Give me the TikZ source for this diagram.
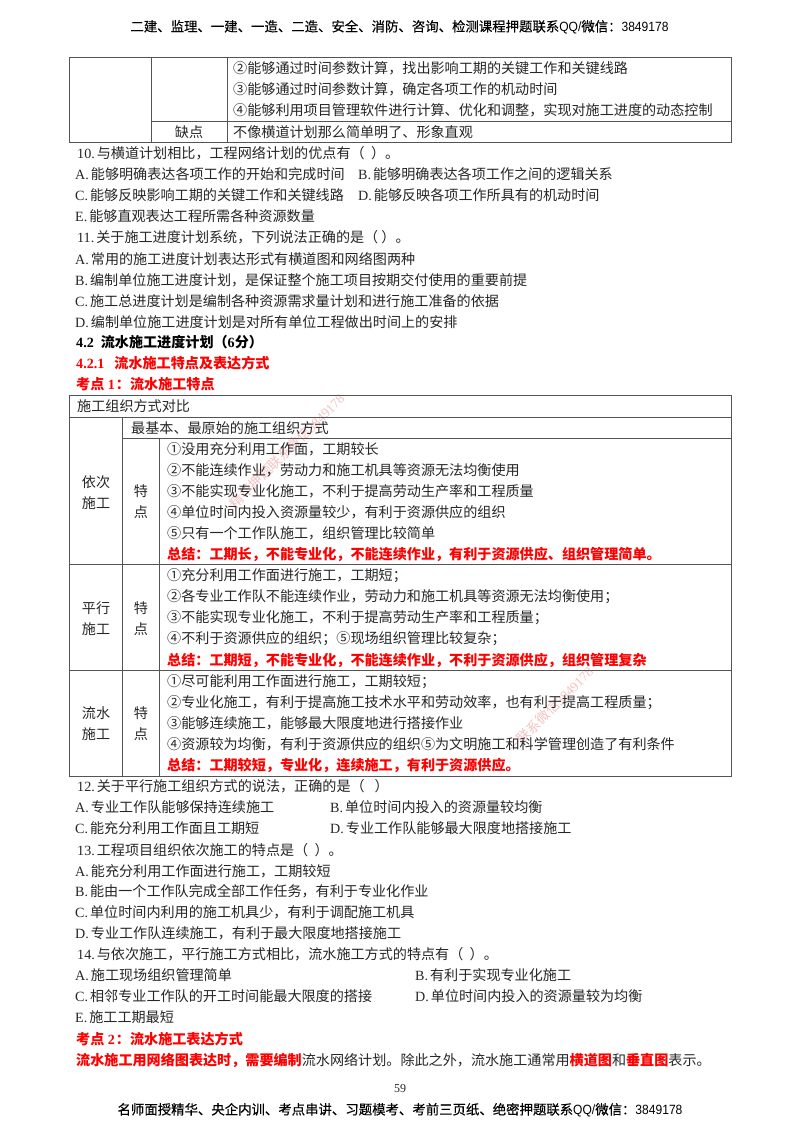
\documentclass[tikz,border=0pt]{standalone}
\usepackage{fontspec}
\setmainfont{Noto Sans CJK SC}
\newfontfamily\lat{Liberation Serif}
\newfontfamily\bandcjk[FakeBold=0.25]{Noto Sans CJK SC}
\newfontfamily\bandlat[FakeStretch=0.9]{Liberation Sans}
\usetikzlibrary{calc}
\definecolor{ink}{gray}{0.15}
\definecolor{rulegray}{gray}{0.33}
\definecolor{markpink}{rgb}{0.96,0.76,0.76}
\newcommand{\hl}[1]{{\bfseries\color{red}#1}}
\newcommand{\opt}[1]{{\lat #1}\kern2pt}
\newcommand{\bodysize}{\fontsize{14.1}{17}\selectfont}
\newcommand{\bandsize}{\fontsize{13.4}{16}\selectfont\bandcjk}
\tikzset{
    txt/.style={anchor=west,inner sep=0pt,text height=12pt,text depth=1.2pt,text=ink,font=\bodysize},
    ctr/.style={inner sep=0pt,text height=12pt,text depth=1.2pt,text=ink,font=\bodysize},
    band/.style={inner sep=0pt,text=black,font=\bandsize},
    rule/.style={draw=rulegray,line width=0.9pt},
    wmark/.style={inner sep=0pt,text=markpink,font=\fontsize{13.5}{16}\selectfont,rotate=45}
}
\begin{document}
\begin{tikzpicture}[x=1pt,y=-1pt]
            \useasboundingbox[fill=white] (0,0) rectangle (800,1132);
            % watermarks
            \node[wmark] (markA) at (287,451) {精华押题联系微信{\lat 3849178}};
            \node[wmark] (markB) at (550,710) {一联系微信{\lat 3849178}};
            % header
            \node[band] (headline) at (399.5,27) {二建、监理、一建、一造、二造、安全、消防、咨询、检测课程押题联系{\bandlat QQ/}微信：{\bandlat 3849178}};
            % upper table
            \draw[rule] (69,57) rectangle (731,142.5);
            \draw[rule] (151,57) -- (151,142.5);
            \draw[rule] (227,57) -- (227,142.5);
            \draw[rule] (151,121) -- (731,121);
            \node[txt] (topB) at (233,68) {②能够通过时间参数计算，找出影响工期的关键工作和关键线路};
            \node[txt] (topC) at (233,89) {③能够通过时间参数计算，确定各项工作的机动时间};
            \node[txt] (topD) at (233,110) {④能够利用项目管理软件进行计算、优化和调整，实现对施工进度的动态控制};
            \node[ctr] (lack) at (189,132) {缺点};
            \node[txt] (lackT) at (233,132) {不像横道计划那么简单明了、形象直观};
            % question 10
            \node[txt] (qTen) at (77,153) {\opt{10.}与横道计划相比，工程网络计划的优点有（\ \ ）。};
            \node[txt] (qTenA) at (75,174) {\opt{A.}能够明确表达各项工作的开始和完成时间};
            \node[txt] (qTenB) at (358,174) {\opt{B.}能够明确表达各项工作之间的逻辑关系};
            \node[txt] (qTenC) at (75,195) {\opt{C.}能够反映影响工期的关键工作和关键线路};
            \node[txt] (qTenD) at (358,195) {\opt{D.}能够反映各项工作所具有的机动时间};
            \node[txt] (qTenE) at (75,216) {\opt{E.}能够直观表达工程所需各种资源数量};
            % question 11
            \node[txt] (qEle) at (77,237) {\opt{11.}关于施工进度计划系统，下列说法正确的是（\ ）。};
            \node[txt] (qEleA) at (75,259) {\opt{A.}常用的施工进度计划表达形式有横道图和网络图两种};
            \node[txt] (qEleB) at (75,280) {\opt{B.}编制单位施工进度计划，是保证整个施工项目按期交付使用的重要前提};
            \node[txt] (qEleC) at (75,301) {\opt{C.}施工总进度计划是编制各种资源需求量计划和进行施工准备的依据};
            \node[txt] (qEleD) at (75,322) {\opt{D.}编制单位施工进度计划是对所有单位工程做出时间上的安排};
            % headings
            \node[txt,font=\bodysize\bfseries,text=black] (secA) at (76,342) {{\lat 4.2}\kern7pt流水施工进度计划（{\lat 6}分）};
            \node[txt] (secB) at (76,363) {\hl{{\lat 4.2.1}\kern10pt流水施工特点及表达方式}};
            \node[txt] (secC) at (76,384) {\hl{考点{\lat\ 1}\kern1pt：流水施工特点}};
            % lower table
            \draw[rule] (69,395) rectangle (731,776);
            \draw[rule] (69,417) -- (731,417);
            \draw[rule] (122.5,438) -- (731,438);
            \draw[rule] (69,564) -- (731,564);
            \draw[rule] (69,670) -- (731,670);
            \draw[rule] (122.5,417) -- (122.5,776);
            \draw[rule] (159,438) -- (159,776);
            \node[txt] (tabHead) at (77,406) {施工组织方式对比};
            \node[txt] (seqHead) at (131,428) {最基本、最原始的施工组织方式};
            \node[ctr] (seqNameA) at (96,482) {依次};
            \node[ctr] (seqNameB) at (96,503) {施工};
            \node[ctr] (seqKeyA) at (141,491) {特};
            \node[ctr] (seqKeyB) at (141,512) {点};
            \node[txt] (seqA) at (167,449) {①没用充分利用工作面，工期较长};
            \node[txt] (seqB) at (167,470) {②不能连续作业，劳动力和施工机具等资源无法均衡使用};
            \node[txt] (seqC) at (167,491) {③不能实现专业化施工，不利于提高劳动生产率和工程质量};
            \node[txt] (seqD) at (167,512) {④单位时间内投入资源量较少，有利于资源供应的组织};
            \node[txt] (seqE) at (167,533) {⑤只有一个工作队施工，组织管理比较简单};
            \node[txt] (seqSum) at (167,554) {\hl{总结：工期长，不能专业化，不能连续作业，有利于资源供应、组织管理简单。}};
            \node[ctr] (parNameA) at (96,608) {平行};
            \node[ctr] (parNameB) at (96,629) {施工};
            \node[ctr] (parKeyA) at (141,608) {特};
            \node[ctr] (parKeyB) at (141,629) {点};
            \node[txt] (parA) at (167,575) {①充分利用工作面进行施工，工期短；};
            \node[txt] (parB) at (167,596) {②各专业工作队不能连续作业，劳动力和施工机具等资源无法均衡使用；};
            \node[txt] (parC) at (167,617) {③不能实现专业化施工，不利于提高劳动生产率和工程质量；};
            \node[txt] (parD) at (167,638) {④不利于资源供应的组织；⑤现场组织管理比较复杂；};
            \node[txt] (parSum) at (167,660) {\hl{总结：工期短，不能专业化，不能连续作业，不利于资源供应，组织管理复杂}};
            \node[ctr] (flowNameA) at (96,713) {流水};
            \node[ctr] (flowNameB) at (96,734) {施工};
            \node[ctr] (flowKeyA) at (141,713) {特};
            \node[ctr] (flowKeyB) at (141,734) {点};
            \node[txt] (flowA) at (167,681) {①尽可能利用工作面进行施工，工期较短；};
            \node[txt] (flowB) at (167,702) {②专业化施工，有利于提高施工技术水平和劳动效率，也有利于提高工程质量；};
            \node[txt] (flowC) at (167,723) {③能够连续施工，能够最大限度地进行搭接作业};
            \node[txt] (flowD) at (167,744) {④资源较为均衡，有利于资源供应的组织⑤为文明施工和科学管理创造了有利条件};
            \node[txt] (flowSum) at (167,765) {\hl{总结：工期较短，专业化，连续施工，有利于资源供应。}};
            % question 12
            \node[txt] (qTwe) at (77,786) {\opt{12.}关于平行施工组织方式的说法，正确的是（\hspace{10pt}）};
            \node[txt] (qTweA) at (75,807) {\opt{A.}专业工作队能够保持连续施工};
            \node[txt] (qTweB) at (330,807) {\opt{B.}单位时间内投入的资源量较均衡};
            \node[txt] (qTweC) at (75,828) {\opt{C.}能充分利用工作面且工期短};
            \node[txt] (qTweD) at (330,828) {\opt{D.}专业工作队能够最大限度地搭接施工};
            % question 13
            \node[txt] (qThi) at (77,850) {\opt{13.}工程项目组织依次施工的特点是（\ \ ）。};
            \node[txt] (qThiA) at (75,871) {\opt{A.}能充分利用工作面进行施工，工期较短};
            \node[txt] (qThiB) at (75,891) {\opt{B.}能由一个工作队完成全部工作任务，有利于专业化作业};
            \node[txt] (qThiC) at (75,912) {\opt{C.}单位时间内利用的施工机具少，有利于调配施工机具};
            \node[txt] (qThiD) at (75,933) {\opt{D.}专业工作队连续施工，有利于最大限度地搭接施工};
            % question 14
            \node[txt] (qFou) at (77,954) {\opt{14.}与依次施工，平行施工方式相比，流水施工方式的特点有（\ \ ）。};
            \node[txt] (qFouA) at (75,975) {\opt{A.}施工现场组织管理简单};
            \node[txt] (qFouB) at (415,975) {\opt{B.}有利于实现专业化施工};
            \node[txt] (qFouC) at (75,996) {\opt{C.}相邻专业工作队的开工时间能最大限度的搭接};
            \node[txt] (qFouD) at (415,996) {\opt{D.}单位时间内投入的资源量较为均衡};
            \node[txt] (qFouE) at (75,1017) {\opt{E.}施工工期最短};
            % closing lines
            \node[txt] (secD) at (76,1039) {\hl{考点{\lat\ 2}\kern1pt：流水施工表达方式}};
            \node[txt] (closing) at (76,1060) {\hl{流水施工用网络图表达时，需要编制}流水网络计划。除此之外，流水施工通常用\hl{横道图}和\hl{垂直图}表示。};
            % footer
            \node[ctr,font=\fontsize{12}{14}\selectfont] (pageNo) at (400,1087) {{\lat 59}};
            \node[band] (footline) at (400,1110) {名师面授精华、央企内训、考点串讲、习题模考、考前三页纸、绝密押题联系{\bandlat QQ/}微信：{\bandlat 3849178}};
        \end{tikzpicture}
\end{document}
